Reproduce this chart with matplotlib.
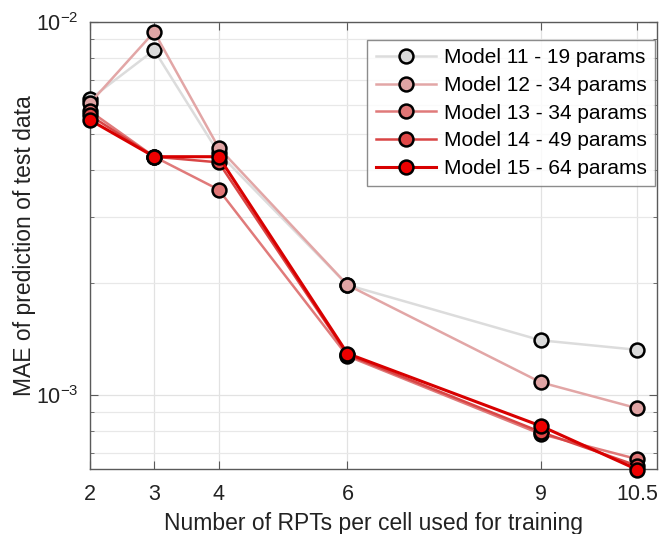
import matplotlib.pyplot as plt
from matplotlib.ticker import NullFormatter, LogLocator

plt.rcParams['font.family'] = ['Liberation Sans', 'DejaVu Sans']

rpts = [2, 3, 4, 6, 9, 10.5]
labels = ['Model 11 - 19 params', 'Model 12 - 34 params', 'Model 13 - 34 params',
          'Model 14 - 49 params', 'Model 15 - 64 params']
mae_m11 = [6.2e-3, 8.4e-3, 4.45e-3, 1.97e-3, 1.40e-3, 1.32e-3]
mae_m12 = [6.05e-3, 9.4e-3, 4.6e-3, 1.97e-3, 1.08e-3, 9.2e-4]
mae_m13 = [5.77e-3, 4.35e-3, 3.55e-3, 1.27e-3, 7.85e-4, 6.72e-4]
mae_m14 = [5.62e-3, 4.35e-3, 4.2e-3, 1.28e-3, 7.95e-4, 6.45e-4]
mae_m15 = [5.46e-3, 4.35e-3, 4.35e-3, 1.29e-3, 8.25e-4, 6.3e-4]

series = [mae_m11, mae_m12, mae_m13, mae_m14, mae_m15]
line_cols = ['#dcdcdc', '#e2a6a6', '#e07a7a', '#d94545', '#d80000']
face_cols = ['#dadada', '#e0a4a4', '#e07676', '#e04848', '#ee0000']
widths = [1.8, 1.8, 1.8, 1.8, 2.2]

fig = plt.figure(figsize=(6.6, 5.34), dpi=100)
ax = fig.add_axes([0.136, 0.122, 0.859, 0.837])

for y, lab, lc, fc, lw in zip(series, labels, line_cols, face_cols, widths):
    ax.plot(rpts, y, '-o', color=lc, lw=lw, markerfacecolor=fc,
            markeredgecolor='black', markeredgewidth=1.8, markersize=10,
            label=lab, clip_on=False, zorder=3)

ax.set_yscale('log')
ax.set_xlim(2, 10.8)
ax.set_ylim(6.33e-4, 1e-2)
ax.set_xticks(rpts)
ax.set_xticklabels(['2', '3', '4', '6', '9', '10.5'])
ax.yaxis.set_minor_locator(LogLocator(base=10, subs=range(2, 10)))
ax.yaxis.set_minor_formatter(NullFormatter())

ax.grid(True, which='major', color='#e2e2e2', lw=0.9)
ax.grid(True, which='minor', axis='y', color='#e8e8e8', lw=0.9)
ax.set_axisbelow(True)

for s in ax.spines.values():
    s.set_color('#5a5a5a')
    s.set_linewidth(1.0)
ax.tick_params(which='both', direction='in', top=True, right=True,
               colors='#5a5a5a', labelcolor='#222222', labelsize=15.5)
ax.tick_params(which='major', length=6)
ax.tick_params(which='minor', length=3)
ax.tick_params(axis='x', pad=11)
ax.tick_params(axis='y', pad=8)

ax.set_xlabel('Number of RPTs per cell used for training', fontsize=16.5,
              color='#222222', labelpad=5)
ax.set_ylabel('MAE of prediction of test data', fontsize=16.5,
              color='#222222', labelpad=0)

leg = ax.legend(loc='upper right', fontsize=15, frameon=True, fancybox=False,
                edgecolor='#707070', borderpad=0.4, handlelength=2.9,
                handletextpad=0.35, labelspacing=0.42, borderaxespad=0,
                bbox_to_anchor=(0.9965, 0.96))
leg.get_frame().set_linewidth(1.0)

fig.savefig('out.png', dpi=100)
